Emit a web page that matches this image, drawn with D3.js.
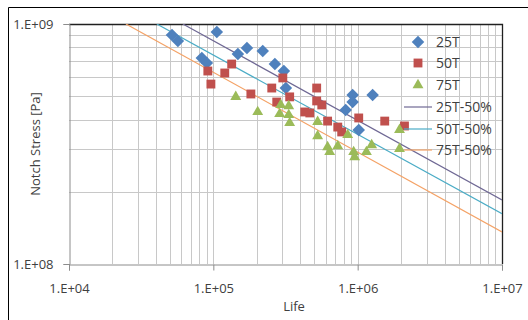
<!DOCTYPE html>
<html>
<head>
<meta charset="utf-8">
<script src="https://cdn.jsdelivr.net/npm/d3@7"></script>
<style>
  html, body { margin: 0; padding: 0; background: #fff; }
  svg { display: block; }
  text { font-family: "Open Sans", "Noto Sans", sans-serif; fill: #404040; }
</style>
</head>
<body>
<svg id="chart" width="528" height="320"></svg>
<script>
// ---- Data (life [cycles], notch stress [Pa]) ----
const series25T = [
  [5.17e4, 8.99e8], [5.68e4, 8.49e8], [1.057e5, 9.26e8], [8.32e4, 7.22e8],
  [9.02e4, 6.88e8], [1.48e5, 7.50e8], [1.71e5, 7.94e8], [2.20e5, 7.72e8],
  [2.67e5, 6.81e8], [3.08e5, 6.37e8], [3.18e5, 5.41e8], [8.26e5, 4.38e8],
  [9.23e5, 5.06e8], [9.23e5, 4.73e8], [1.27e6, 5.06e8], [1.017e6, 3.62e8]
];
const series50T = [
  [9.16e4, 6.37e8], [9.62e4, 5.62e8], [1.20e5, 6.25e8], [1.34e5, 6.81e8],
  [1.82e5, 5.11e8], [2.54e5, 5.41e8], [3.03e5, 5.96e8], [2.75e5, 4.73e8],
  [3.38e5, 4.97e8], [5.20e5, 5.41e8], [5.20e5, 4.78e8], [5.64e5, 4.60e8],
  [4.30e5, 4.30e8], [4.66e5, 4.26e8], [6.19e5, 3.94e8], [7.28e5, 3.72e8],
  [7.75e5, 3.55e8], [1.017e6, 4.06e8], [1.54e6, 3.94e8], [2.11e6, 3.76e8]
];
const series75T = [
  [1.43e5, 4.97e8], [2.03e5, 4.30e8], [2.93e5, 4.60e8], [3.33e5, 4.55e8],
  [2.88e5, 4.22e8], [3.33e5, 4.18e8], [3.38e5, 3.87e8], [5.28e5, 3.91e8],
  [5.28e5, 3.41e8], [6.19e5, 3.07e8], [7.28e5, 3.10e8], [6.40e5, 2.93e8],
  [8.53e5, 3.45e8], [9.38e5, 2.93e8], [9.53e5, 2.79e8], [1.15e6, 2.93e8],
  [1.25e6, 3.13e8], [1.95e6, 3.62e8], [1.95e6, 3.02e8]
];
// 50% fit lines: [life, stress] endpoints
const fit25T = [[6.15e4, 1.0e9], [1.0e7, 1.85e8]];
const fit50T = [[4.06e4, 1.0e9], [1.0e7, 1.62e8]];
const fit75T = [[2.48e4, 1.0e9], [1.0e7, 1.36e8]];

const xTickValues = [1e4, 1e5, 1e6, 1e7];
const xTickLabels = ["1.E+04", "1.E+05", "1.E+06", "1.E+07"];
const yTickValues = [1e8, 1e9];
const yTickLabels = ["1.E+08", "1.E+09"];
const legendLabels = ["25T", "50T", "75T", "25T-50%", "50T-50%", "75T-50%"];
const xTitle = "Life";
const yTitle = "Notch Stress [Pa]";

// ---- Layout ----
const svg = d3.select("#chart");
const L = 69, R = 502, T = 24, B = 264;
const x = d3.scaleLog().domain([1e4, 1e7]).range([L, R]);
const y = d3.scaleLog().domain([1e8, 1e9]).range([B, T]);

// outer chart border (top & left visible)
svg.append("path").attr("d", `M8.5,320 L8.5,7.5 L528,7.5`)
  .attr("fill", "none").attr("stroke", "#000").attr("stroke-width", 1);

// gridlines
const xGrid = [];
for (let k = 4; k < 7; k++) for (let m = 1; m <= 9; m++) { if (k === 4 && m === 1) continue; xGrid.push(m * Math.pow(10, k)); }
const yGrid = [];
for (let m = 2; m <= 9; m++) yGrid.push(m * 1e8);

const grid = svg.append("g");
grid.selectAll("line.xg").data(xGrid).join("line")
  .attr("x1", d => Math.round(x(d)) + 0.5).attr("x2", d => Math.round(x(d)) + 0.5)
  .attr("y1", T).attr("y2", B).attr("stroke", "#c8c8c8").attr("stroke-width", 1);
grid.selectAll("line.yg").data(yGrid).join("line")
  .attr("y1", d => Math.round(y(d)) + 0.5).attr("y2", d => Math.round(y(d)) + 0.5)
  .attr("x1", L).attr("x2", R).attr("stroke", "#c8c8c8").attr("stroke-width", 1);

// plot border: top and right dark
svg.append("path").attr("d", `M${L},${T + 0.5} L${R + 0.5},${T + 0.5} L${R + 0.5},${B}`)
  .attr("fill", "none").attr("stroke", "#202020").attr("stroke-width", 1.3);

// axes
const xAxis = d3.axisBottom(x).tickValues(xTickValues).tickSize(6)
  .tickFormat((d, i) => xTickLabels[i]);
const gx = svg.append("g").attr("transform", `translate(0,${B + 0.5})`).call(xAxis);
gx.select(".domain").attr("stroke", "#8c8c8c");
gx.selectAll(".tick line").attr("stroke", "#8c8c8c");
gx.selectAll(".tick text").attr("dy", 0).attr("y", 28)
  .style("font-size", "13px").style("font-family", "'Open Sans', sans-serif").attr("fill", "#404040");

const yAxis = d3.axisLeft(y).tickValues(yTickValues).tickSize(6)
  .tickFormat((d, i) => yTickLabels[i]);
const gy = svg.append("g").attr("transform", `translate(${L + 0.5},0)`).call(yAxis);
gy.select(".domain").attr("stroke", "#8c8c8c");
gy.selectAll(".tick line").attr("stroke", "#8c8c8c");
gy.selectAll(".tick text").attr("x", -16)
  .style("font-size", "13px").style("font-family", "'Open Sans', sans-serif").attr("fill", "#404040");

// axis titles
svg.append("text").attr("x", 294).attr("y", 311).attr("text-anchor", "middle")
  .style("font-size", "13px").text(xTitle);
svg.append("text").attr("transform", `translate(40,${(T + B) / 2}) rotate(-90)`)
  .attr("text-anchor", "middle").style("font-size", "13px").text(yTitle);

// clip
svg.append("clipPath").attr("id", "clip").append("rect")
  .attr("x", L).attr("y", T).attr("width", R - L).attr("height", B - T);

const plot = svg.append("g").attr("clip-path", "url(#clip)");

const colors = { s25: "#4F81BD", s50: "#C0504D", s75: "#9BBB59", f25: "#6f6894", f50: "#4BACC6", f75: "#F4A266" };
const sym = {
  diamond: d3.symbol().type(d3.symbolDiamond2).size(100),
  square: d3.symbol().type(d3.symbolSquare2).size(100),
  triangle: d3.symbol().type(d3.symbolTriangle2).size(85)
};

const pointsG = svg.append("g");
pointsG.selectAll("path.s25").data(series25T).join("path")
  .attr("transform", d => `translate(${x(d[0])},${y(d[1])})`)
  .attr("d", sym.diamond).attr("fill", colors.s25);
pointsG.selectAll("path.s50").data(series50T).join("path")
  .attr("transform", d => `translate(${x(d[0])},${y(d[1])})`)
  .attr("d", sym.square).attr("fill", colors.s50);
pointsG.selectAll("path.s75").data(series75T).join("path")
  .attr("transform", d => `translate(${x(d[0])},${y(d[1])})`)
  .attr("d", sym.triangle).attr("fill", colors.s75);

const line = d3.line().x(d => x(d[0])).y(d => y(d[1]));
[[fit25T, colors.f25], [fit50T, colors.f50], [fit75T, colors.f75]].forEach(([f, c]) => {
  plot.append("path").attr("d", line(f)).attr("fill", "none")
    .attr("stroke", c).attr("stroke-width", 1.2);
});

// legend
const legY = [42, 63, 85, 107, 129, 150];
const lg = svg.append("g");
const markerKinds = [["diamond", colors.s25], ["square", colors.s50], ["triangle", colors.s75]];
markerKinds.forEach(([k, c], i) => {
  lg.append("path").attr("transform", `translate(418,${legY[i]})`).attr("d", sym[k]).attr("fill", c);
});
[colors.f25, colors.f50, colors.f75].forEach((c, i) => {
  lg.append("line").attr("x1", 404).attr("x2", 432).attr("y1", legY[i + 3]).attr("y2", legY[i + 3])
    .attr("stroke", c).attr("stroke-width", 1.2);
});
legendLabels.forEach((t, i) => {
  lg.append("text").attr("x", 436).attr("y", legY[i]).attr("dy", "0.35em")
    .style("font-size", "14px").text(t);
});
</script>
</body>
</html>
